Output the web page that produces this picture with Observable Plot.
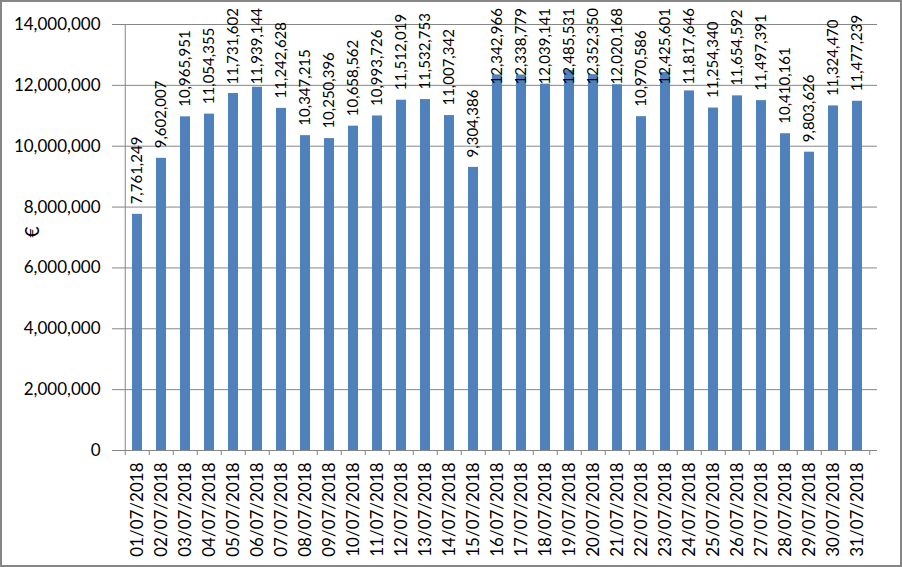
<!DOCTYPE html>
<html><head><meta charset="utf-8">
<script src="https://cdn.jsdelivr.net/npm/d3@7"></script>
<script src="https://cdn.jsdelivr.net/npm/@observablehq/plot@0.6"></script>
<style>
body{margin:0;background:#fff}
#chart svg{display:block;outline:2px solid #868686;outline-offset:-2px}
</style></head><body><div id="chart"></div>
<script>
const dates = ["01/07/2018","02/07/2018","03/07/2018","04/07/2018","05/07/2018","06/07/2018","07/07/2018","08/07/2018","09/07/2018","10/07/2018","11/07/2018","12/07/2018","13/07/2018","14/07/2018","15/07/2018","16/07/2018","17/07/2018","18/07/2018","19/07/2018","20/07/2018","21/07/2018","22/07/2018","23/07/2018","24/07/2018","25/07/2018","26/07/2018","27/07/2018","28/07/2018","29/07/2018","30/07/2018","31/07/2018"];
const values = [7761249,9602007,10965951,11054355,11731602,11939144,11242628,10347215,10250396,10658562,10993726,11512019,11532753,11007342,9304386,12342966,12338779,12039141,12485531,12352350,12020168,10970586,12425601,11817646,11254340,11654592,11497391,10410161,9803626,11324470,11477239];
const yTicks = [0,2000000,4000000,6000000,8000000,10000000,12000000,14000000];
const yLabel = "€";

const data = dates.map((d,i)=>({date:d, value:values[i]}));
const W=902,H=567,mL=117,mR=25,mT=24,mB=117;
const step=(W-mL-mR)/dates.length;
const yMax=14000000;
const cap = yMax*(1-(94-mT)/(H-mT-mB));
const fmt = d3.format(",");
const grid="#868686";
const chart = Plot.plot({
  width:W,height:H,marginLeft:mL,marginRight:mR,marginTop:mT,marginBottom:mB,
  style:{fontFamily:"Lato",fontSize:"15px",color:"#000",background:"#fff",overflow:"visible"},
  x:{type:"band",domain:dates,paddingInner:0.58,paddingOuter:0.29,align:0.5},
  y:{domain:[0,yMax]},
  marks:[
    Plot.gridY(yTicks.filter(t=>t>0),{stroke:grid,strokeOpacity:1,strokeWidth:1}),
    Plot.barY(data,{x:"date",y:"value",fill:"#4F81BD"}),
    Plot.ruleY([0],{stroke:grid,strokeWidth:1}),
    Plot.ruleX([dates[0]],{dx:-step/2,y1:0,y2:yMax,stroke:grid,strokeWidth:1}),
    Plot.axisY(yTicks,{tickFormat:fmt,tickSize:5,tickPadding:12,stroke:grid,fill:"#000",fontSize:17,label:null}),
    Plot.text([yLabel],{frameAnchor:"left",dx:-85,rotate:-90,fontSize:19,fill:"#000",text:d=>d}),
    Plot.axisX(dates,{text:null,tickSize:5,dx:-step/2,stroke:grid,label:null}),
    Plot.axisX([dates[dates.length-1]],{text:null,tickSize:5,dx:step/2,stroke:grid,label:null}),
    Plot.axisX(dates,{tickSize:0,tickPadding:12,tickRotate:-90,fill:"#000",fontSize:17,label:null}),
    Plot.text(data,{x:"date",y:d=>Math.min(d.value,cap),text:d=>fmt(d.value),rotate:-90,textAnchor:"start",dy:-10,fill:"#000",fontSize:15})
  ]
});
document.getElementById("chart").append(chart);
</script></body></html>
